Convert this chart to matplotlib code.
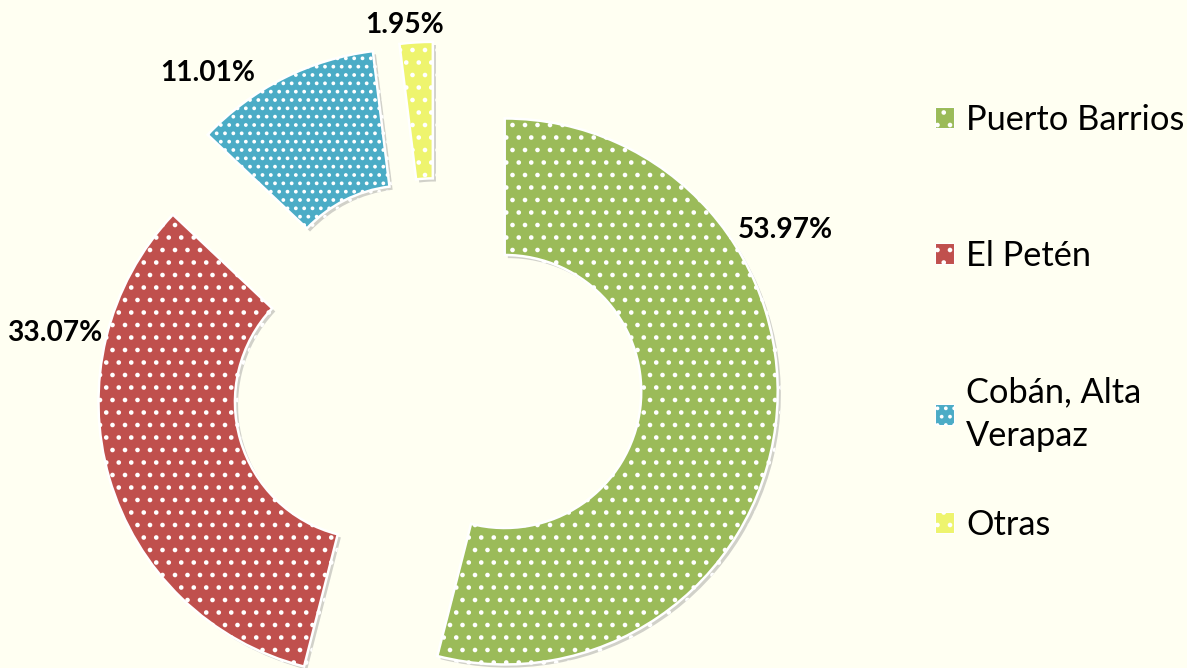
import matplotlib
matplotlib.use("Agg")
import matplotlib.pyplot as plt
import matplotlib.patches as mpatches
import matplotlib.patheffects as pe

categories = ["Puerto Barrios", "El Petén", "Cobán, Alta\nVerapaz", "Otras"]
values = [53.97, 33.07, 11.01, 1.95]
labels = ["53.97%", "33.07%", "11.01%", "1.95%"]
colors = ["#9BBB59", "#C0504D", "#4BACC6", "#EEF46E"]
hatches = ["..", "..", "...", ".."]
label_pos = [(1.275, 0.560), (-1.399, 0.183), (-0.839, 1.136), (-0.117, 1.311)]
legend_y_px = [120, 256, 414, 525]

DPI = 150
BG = "#FFFFF2"
W, H = 1187, 668
fig = plt.figure(figsize=(W / DPI, H / DPI), dpi=DPI, facecolor=BG)
ax = fig.add_axes([0, 0, 1, 1])
ax.set_facecolor(BG)

wedges, _ = ax.pie(values, colors=colors, startangle=90, counterclock=False,
                   explode=[0.25] * len(values), radius=1.0,
                   wedgeprops=dict(width=0.5, edgecolor="white", linewidth=1.2))
ax.set_xlim(-437 / 273, (W - 437) / 273)
ax.set_ylim(-(H - 383) / 273, 383 / 273)
ax.set_aspect("equal", adjustable="datalim")
ax.axis("off")

shadow = [pe.SimplePatchShadow(offset=(1.5, -1.5), shadow_rgbFace="#999999", alpha=0.45), pe.Normal()]
for w, h in zip(wedges, hatches):
    w.set_hatch(h)
    w.set_path_effects(shadow)

for lab, (x, y) in zip(labels, label_pos):
    ax.text(x, y, lab, ha="center", va="center", fontsize=13.5,
            fontweight="bold", family="Lato", color="black")

for cat, c, h, ypx in zip(categories, colors, hatches, legend_y_px):
    handle = mpatches.Patch(facecolor=c, edgecolor="white", hatch=h, linewidth=0.5)
    leg = fig.legend([handle], [cat], loc="center left",
                     bbox_to_anchor=(935 / W, 1 - ypx / H),
                     frameon=False, prop=dict(family="Lato", size=16.5),
                     handlelength=0.55, handleheight=0.55, handletextpad=0.35,
                     borderaxespad=0, borderpad=0)
    for t in leg.get_texts():
        t.set_linespacing(1.45)

fig.savefig("out.png", dpi=DPI, facecolor=BG)
